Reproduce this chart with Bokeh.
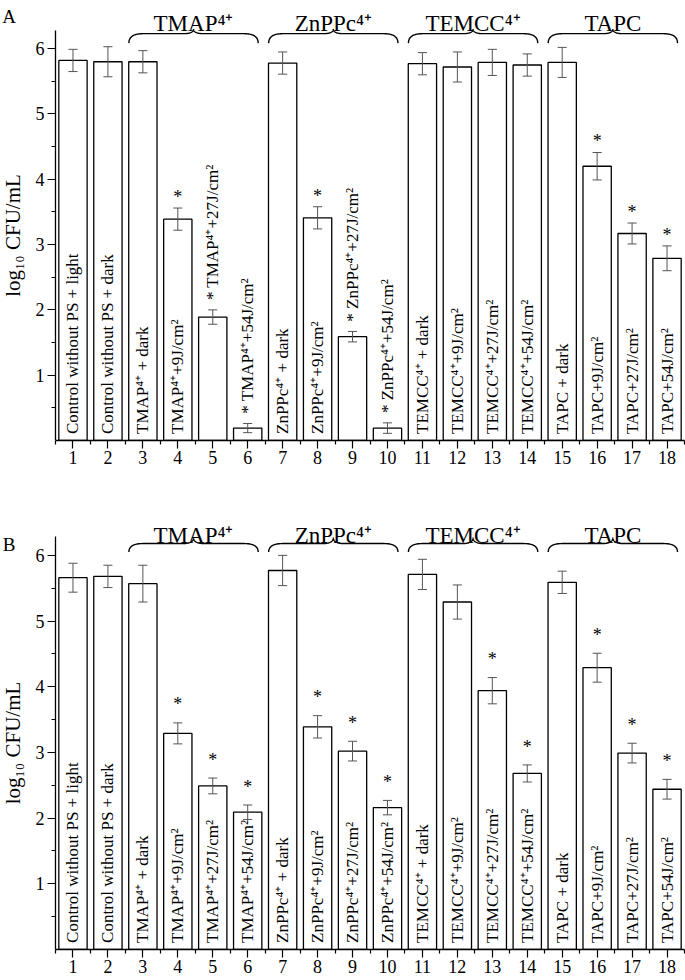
import numpy as np
from bokeh.plotting import figure
from bokeh.models import FixedTicker, Range1d
from bokeh.layouts import column
from bokeh.embed import file_html
from bokeh.resources import INLINE
from bokeh.core.properties import value

# ---------------- data ----------------
categories = list(range(1, 19))
y_ticks = [1, 2, 3, 4, 5, 6]
bar_labels = [
    "Control without PS + light", "Control without PS + dark",
    "TMAP⁴⁺ + dark", "TMAP⁴⁺+9J/cm²", "TMAP⁴⁺+27J/cm²", "TMAP⁴⁺+54J/cm²",
    "ZnPPc⁴⁺ + dark", "ZnPPc⁴⁺+9J/cm²", "ZnPPc⁴⁺+27J/cm²", "ZnPPc⁴⁺+54J/cm²",
    "TEMCC⁴⁺ + dark", "TEMCC⁴⁺+9J/cm²", "TEMCC⁴⁺+27J/cm²", "TEMCC⁴⁺+54J/cm²",
    "TAPC + dark", "TAPC+9J/cm²", "TAPC+27J/cm²", "TAPC+54J/cm²",
]
group_names = ["TMAP⁴⁺", "ZnPPc⁴⁺", "TEMCC⁴⁺", "TAPC"]
group_first = [3, 7, 11, 15]
group_last = [6, 10, 14, 18]

a_values = [5.82, 5.80, 5.80, 3.39, 1.89, 0.19, 5.78, 3.41, 1.59, 0.19,
            5.77, 5.72, 5.79, 5.75, 5.79, 4.20, 3.17, 2.79]
a_errors = [0.17, 0.23, 0.17, 0.17, 0.11, 0.07, 0.17, 0.17, 0.08, 0.08,
            0.17, 0.23, 0.20, 0.17, 0.23, 0.21, 0.16, 0.19]
a_star = [4, 8, 16, 17, 18]
a_label_above = [5, 6, 9, 10]

b_values = [5.66, 5.68, 5.57, 3.29, 2.49, 2.09, 5.77, 3.39, 3.02, 2.16,
            5.71, 5.29, 3.94, 2.68, 5.59, 4.29, 2.99, 2.44]
b_errors = [0.22, 0.17, 0.28, 0.16, 0.12, 0.11, 0.23, 0.17, 0.15, 0.11,
            0.23, 0.26, 0.20, 0.13, 0.17, 0.22, 0.15, 0.15]
b_star = [4, 5, 6, 8, 9, 10, 13, 14, 16, 17, 18]
b_label_above = []

FONT = "Liberation Serif"
X_START = 0.5          # where the y axis sits
X_LEFT = -1.074        # frame extends left of the axis to hold labels


def brace_points(x0, x1, y_end, y_h, y_tip, r=0.4, r2=0.3, n=24):
    xc = (x0 + x1) / 2
    t = np.linspace(0, 1, n)[:, None]

    def quad(p0, p1, p2):
        p0, p1, p2 = map(np.array, (p0, p1, p2))
        return (1 - t) ** 2 * p0 + 2 * (1 - t) * t * p1 + t ** 2 * p2

    pts = np.vstack([
        quad((x0, y_end), (x0, y_h), (x0 + r, y_h)),
        quad((xc - r2, y_h), (xc, y_h), (xc, y_tip)),
        quad((xc, y_tip), (xc, y_h), (xc + r2, y_h)),
        quad((x1 - r, y_h), (x1, y_h), (x1, y_end)),
    ])
    return list(pts[:, 0]), list(pts[:, 1])


def make_panel(values, errors, star_idx, above_idx, letter, height, y_top,
               border_bottom, brace_y, label_y, letter_y, star_off, above_off):
    p = figure(width=685, height=height, output_backend="svg",
               toolbar_location=None, x_range=Range1d(X_LEFT, 18.5),
               y_range=Range1d(0, y_top), min_border_left=0,
               min_border_right=1, min_border_top=0,
               min_border_bottom=border_bottom)
    p.outline_line_color = None
    p.grid.visible = False
    p.background_fill_color = "white"

    x = np.array(categories, dtype=float)
    v = np.array(values)
    e = np.array(errors)

    p.vbar(x=x, top=v, bottom=0, width=0.81, fill_color="white",
           line_color="black", line_width=1.3)
    # error bars
    ecol = "#555555"
    p.segment(x0=x, y0=v - e, x1=x, y1=v + e, line_color=ecol, line_width=1)
    p.segment(x0=x - 0.13, y0=v + e, x1=x + 0.13, y1=v + e,
              line_color=ecol, line_width=1)
    p.segment(x0=x - 0.13, y0=v - e, x1=x + 0.13, y1=v - e,
              line_color=ecol, line_width=1)

    # bar labels
    inside = [i for i in range(18) if (i + 1) not in above_idx]
    p.text(x=[x[i] for i in inside], y=[0.1] * len(inside),
           text=[bar_labels[i] for i in inside], angle=np.pi / 2,
           text_align="left", text_baseline="middle",
           text_font=value(FONT), text_font_size="17px", text_color="black")
    if above_idx:
        ab = [i - 1 for i in above_idx]
        p.text(x=[x[i] for i in ab], y=[v[i] + e[i] + above_off for i in ab],
               text=["* " + bar_labels[i] for i in ab], angle=np.pi / 2,
               text_align="left", text_baseline="middle",
               text_font=value(FONT), text_font_size="17px",
               text_color="black")
    # stars
    st = [i - 1 for i in star_idx]
    p.text(x=[x[i] for i in st], y=[v[i] + e[i] + star_off for i in st],
           text=["*"] * len(st), text_align="center", text_baseline="middle",
           text_font=value(FONT), text_font_size="18px", text_color="black")

    # braces and group labels
    bx, by = [], []
    for a, b in zip(group_first, group_last):
        xs, ys = brace_points(a - 0.4, b + 0.3, *brace_y)
        bx.append(xs)
        by.append(ys)
    p.multi_line(xs=bx, ys=by, line_color="black", line_width=1.4)
    gx = [((a - 0.4) + (b + 0.3)) / 2 for a, b in zip(group_first, group_last)]
    p.text(x=gx, y=[label_y] * len(gx), text=group_names, text_align="center",
           text_baseline="alphabetic", text_font=value(FONT),
           text_font_size="23px", text_color="black")

    # panel letter
    p.text(x=[-0.83], y=[letter_y], text=[letter], text_align="center",
           text_baseline="middle", text_font=value(FONT),
           text_font_size="19px", text_color="black")

    # axes
    p.xaxis.ticker = FixedTicker(ticks=categories,
                                 minor_ticks=[c - 0.5 for c in categories] + [18.5])
    p.xaxis.bounds = (X_START, 18.5)
    p.yaxis.ticker = FixedTicker(ticks=y_ticks,
                                 minor_ticks=list(np.arange(0.5, 6.01, 0.5)))
    p.yaxis.bounds = (0, 6.28)
    p.yaxis.fixed_location = X_START
    for ax in (p.xaxis[0], p.yaxis[0]):
        ax.axis_line_width = 1.3
        ax.axis_line_color = "black"
        ax.major_tick_in = 0
        ax.major_tick_out = 8
        ax.minor_tick_in = 0
        ax.minor_tick_out = 4
        ax.major_tick_line_width = 1.2
        ax.minor_tick_line_width = 1.2
        ax.major_label_text_font = FONT
        ax.major_label_text_font_size = "18px"
        ax.major_label_text_color = "black"
        ax.major_label_standoff = 3
    p.xaxis.major_label_standoff = 2
    p.yaxis.axis_label = "log₁₀ CFU/mL"
    p.yaxis.axis_label_text_font = FONT
    p.yaxis.axis_label_text_font_size = "21px"
    p.yaxis.axis_label_text_font_style = "normal"
    p.yaxis.axis_label_standoff = 8
    p.yaxis.axis_label_text_color = "black"
    return p


pA = make_panel(a_values, a_errors, a_star, a_label_above, "A", height=480,
                y_top=6.738, border_bottom=40, brace_y=(6.085, 6.23, 6.30),
                label_y=6.38, letter_y=6.49, star_off=0.17, above_off=0.15)
pB = make_panel(b_values, b_errors, b_star, b_label_above, "B", height=500,
                y_top=7.14, border_bottom=31, brace_y=(6.05, 6.18, 6.27),
                label_y=6.31, letter_y=6.16, star_off=0.28, above_off=0.15)

layout = column(pA, pB)
open("out.html", "w").write(file_html(layout, INLINE))
